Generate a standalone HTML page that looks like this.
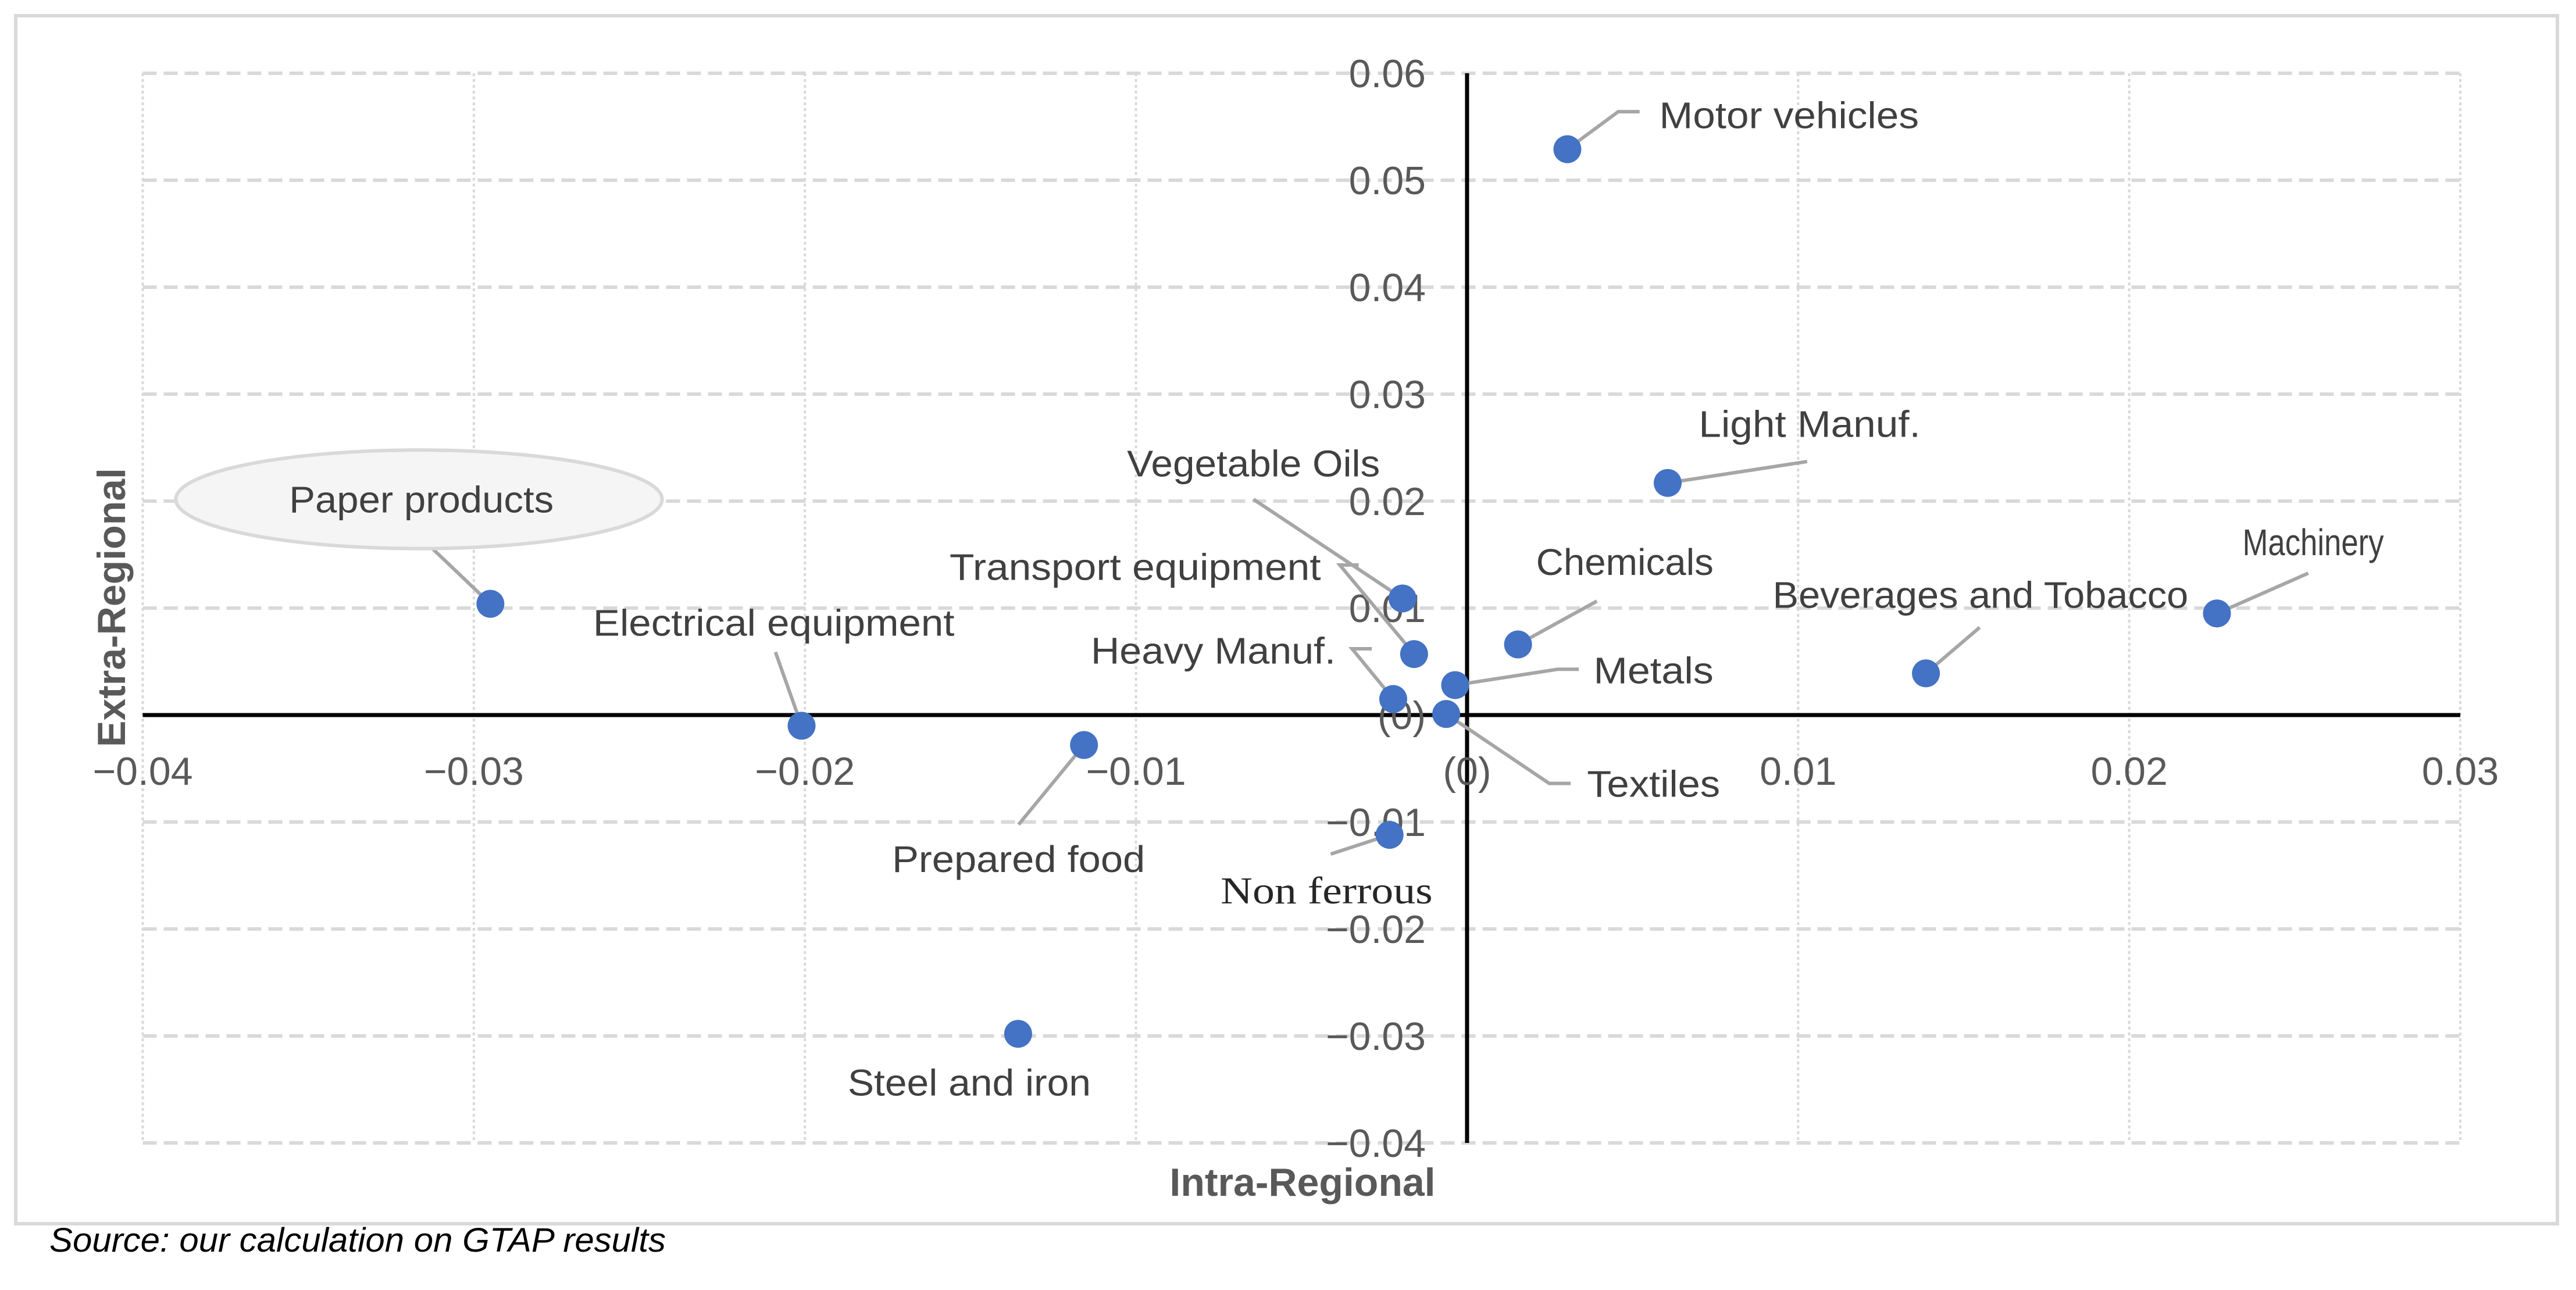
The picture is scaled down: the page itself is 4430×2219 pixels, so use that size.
<!DOCTYPE html>
<html><head><meta charset="utf-8">
<style>
html,body{margin:0;padding:0;background:#fff;}
svg{display:block;}
</style></head>
<body>
<svg id="chart" width="4430" height="2219" viewBox="0 0 4430 2219" xmlns="http://www.w3.org/2000/svg">
<rect x="27" y="27" width="4371" height="2078" fill="#fff" stroke="#d9d9d9" stroke-width="6"/>
<g id="grid"></g>
<g id="axes"></g>
<g id="ticks"></g>
<g id="leaders"></g>
<g id="points"></g>
<g id="labels"></g>
<text transform="translate(215,1045) rotate(-90)" text-anchor="middle" font-family="Liberation Sans, sans-serif" font-weight="bold" font-size="68" fill="#595959">Extra-Regional</text>
<text x="2240" y="2057" text-anchor="middle" font-family="Liberation Sans, sans-serif" font-weight="bold" font-size="68" fill="#595959">Intra-Regional</text>
<text x="85" y="2153" font-family="Liberation Sans, sans-serif" font-style="italic" font-size="58" fill="#000" textLength="1060" lengthAdjust="spacingAndGlyphs">Source: our calculation on GTAP results</text>
</svg>
<script>
const categories = ["Motor vehicles","Light Manuf.","Chemicals","Machinery","Beverages and Tobacco","Paper products","Electrical equipment","Prepared food","Steel and iron","Non ferrous","Vegetable Oils","Transport equipment","Heavy Manuf.","Metals","Textiles"];
const xValues = [0.00303,0.00606,0.00154,0.02265,0.01386,-0.0295,-0.0201,-0.01157,-0.01356,-0.00234,-0.00195,-0.0016,-0.00223,-0.00036,-0.00063];
const yValues = [0.0529,0.0217,0.0066,0.0095,0.0039,0.0104,-0.001,-0.0028,-0.0298,-0.0112,0.0109,0.0057,0.0015,0.0028,0.0001];
const xTicks = [-0.04,-0.03,-0.02,-0.01,0,0.01,0.02,0.03];
const xTickLabels = ["\u22120.04","\u22120.03","\u22120.02","\u22120.01","(0)","0.01","0.02","0.03"];
const yTicks = [0.06,0.05,0.04,0.03,0.02,0.01,0,-0.01,-0.02,-0.03,-0.04];
const yTickLabels = ["0.06","0.05","0.04","0.03","0.02","0.01","(0)","\u22120.01","\u22120.02","\u22120.03","\u22120.04"];

const X0=245.5, X1=4231, Y0=126, Y1=1966;
function xs(v){return X0+(v-(-0.04))/(0.07)*(X1-X0);}
function ys(v){return Y0+(0.06-v)/(0.10)*(Y1-Y0);}
const S=2.8253;
const layout=[
 [1010,78,158,[[985,68],[998,68]]],
 [1034,266,135,[[1100,281]]],
 [935,350,108,[[972,366]]],
 [1365,338,86,[[1405,349]]],
 [1079,370,253,[[1205,382]]],
 [176,312,161,[[259,330]]],
 [361,387,220,[[472,397]]],
 [543,531,154,[[620,502]]],
 [516,667,148,[]],
 [743,550,129,[[810,520]]],
 [686,290,154,[[763,304]]],
 [578,353,226,[[815.5,344],[827,344]]],
 [664,404,149,[[823,395],[835,395]]],
 [970,416,73,[[948,407.5],[961,407.5]]],
 [966,485,81,[[943,477],[956,477]]]
];
const NS="http://www.w3.org/2000/svg";
function mk(tag,attrs,parent){const e=document.createElementNS(NS,tag);for(const k in attrs)e.setAttribute(k,attrs[k]);parent.appendChild(e);return e;}
const grid=document.getElementById('grid'),axes=document.getElementById('axes'),ticks=document.getElementById('ticks'),leaders=document.getElementById('leaders'),points=document.getElementById('points'),labels=document.getElementById('labels');
xTicks.forEach(v=>{
 const l=mk('line',{x1:xs(v),x2:xs(v),y1:Y0,y2:Y1,stroke:'#d9d9d9','stroke-width':4,'stroke-dasharray':'5 5'},grid);
 
 
});
yTicks.forEach(v=>{
 const l=mk('line',{x1:X0,x2:X1,y1:ys(v),y2:ys(v),stroke:'#d9d9d9','stroke-width':6,'stroke-dasharray':'24 12'},grid);
 
 
});
const ax=mk('line',{x1:X0,x2:X1,y1:ys(0),y2:ys(0),stroke:'#000','stroke-width':7},axes);


const ay=mk('line',{x1:xs(0),x2:xs(0),y1:Y0,y2:Y1,stroke:'#000','stroke-width':7},axes);


const tf='Liberation Sans, sans-serif';
xTicks.forEach((v,i)=>{
 const t=mk('text',{x:xs(v),y:1350,'text-anchor':'middle','font-family':tf,'font-size':68,fill:'#595959'},ticks);
 t.textContent=xTickLabels[i];
 
 
});
yTicks.forEach((v,i)=>{
 const t=mk('text',{x:2452,y:ys(v)+24,'text-anchor':'end','font-family':tf,'font-size':68,fill:'#595959'},ticks);
 t.textContent=yTickLabels[i];
 
 
});
const el=mk('ellipse',{cx:255*S,cy:304*S,rx:148*S,ry:30*S,fill:'#f5f5f5',stroke:'#d9d9d9','stroke-width':6},labels);


categories.forEach((c,i)=>{
 const px=xs(xValues[i]),py=ys(yValues[i]);
 const L=layout[i];
 if(L[3].length){
  const pts=[[px,py]].concat(L[3].map(p=>[p[0]*S,p[1]*S]));
  const pl=mk('polyline',{points:pts.map(p=>p.join(',')).join(' '),fill:'none',stroke:'#a6a6a6','stroke-width':6},leaders);
  
  
 }
 const dot=mk('circle',{cx:px,cy:py,r:24,fill:'#4472c4'},points);
 
 
 const serif=(c==='Non ferrous');
 const t=mk('text',{x:L[0]*S,y:L[1]*S,'font-family':serif?'Liberation Serif, serif':tf,'font-size':serif?66:64,fill:serif?'#262626':'#404040',textLength:L[2]*S,lengthAdjust:'spacingAndGlyphs'},labels);
 t.textContent=c;
 
 
});
</script>
</body></html>
